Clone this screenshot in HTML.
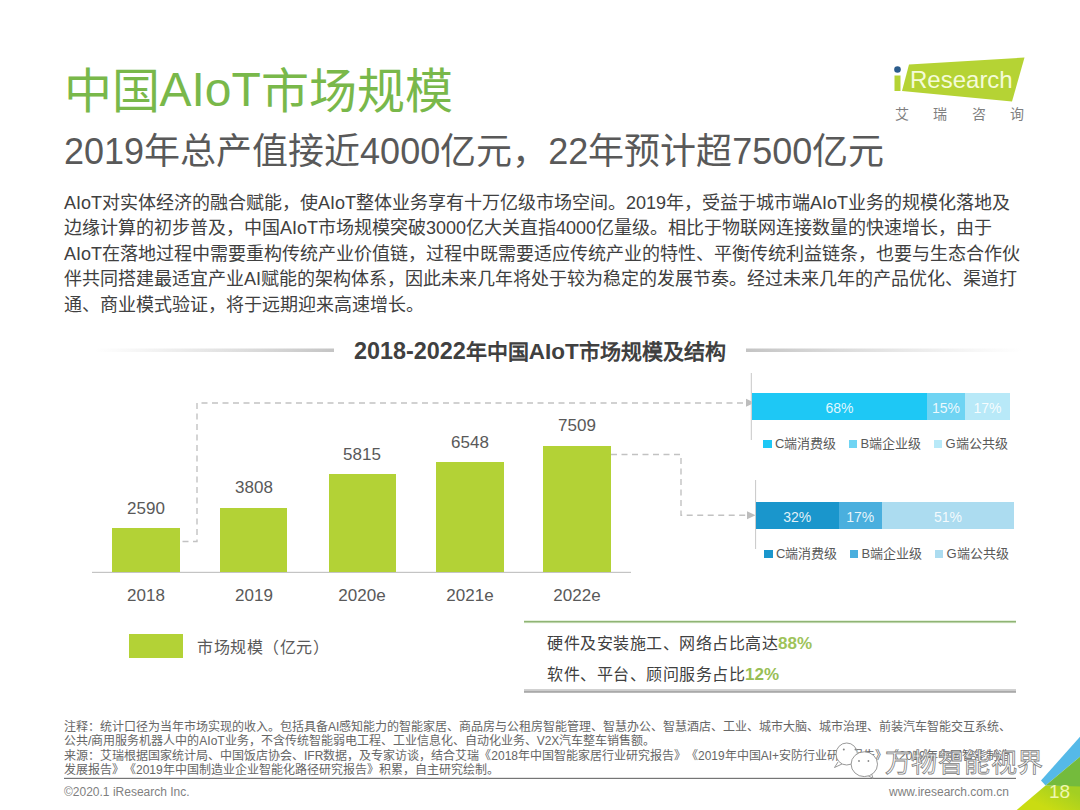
<!DOCTYPE html>
<html lang="zh-CN"><head><meta charset="utf-8">
<style>
html,body{margin:0;padding:0;background:#fff;}
body{width:1080px;height:810px;position:relative;overflow:hidden;font-family:"Liberation Sans",sans-serif;text-spacing-trim:space-all;}
.a{position:absolute;white-space:nowrap;line-height:1;}
#title{left:63.5px;top:67.5px;font-size:48px;color:#79b84a;}
#sub{left:64px;top:134px;font-size:36px;color:#595959;}
.p{left:64px;font-size:18px;color:#404040;}
#ctitle{left:354px;top:340px;font-size:21px;font-weight:bold;color:#404040;}
.bar{position:absolute;background:#b3d236;}
.val{position:absolute;font-size:17px;color:#595959;text-align:center;width:100px;line-height:1;}
.yr{position:absolute;font-size:17px;color:#595959;text-align:center;width:100px;line-height:1;}
.seg{position:absolute;height:27px;color:rgba(255,255,255,0.88);font-size:14px;text-align:center;line-height:30.5px;}
.leg{position:absolute;font-size:13px;color:#595959;line-height:1;white-space:nowrap;}
.sq{display:inline-block;width:8.5px;height:8.5px;margin-right:3.5px;vertical-align:-0.5px;}
.fn{left:64px;font-size:12px;color:#666;}
</style></head><body>

<!-- logo -->
<svg class="a" style="left:0;top:0" width="1080" height="810">
  <polygon points="909,64.5 1024.5,57.5 1012,101.5 902,91" fill="#b5d334"/>
  <circle cx="897.5" cy="69.5" r="3.3" fill="#2b5c8c"/>
  <rect x="894.5" y="75.5" width="6" height="15.5" fill="#b5d334"/>
  <!-- chart title lines -->
  <defs>
    <linearGradient id="gl" x1="0" x2="1"><stop offset="0" stop-color="#d0d0d0" stop-opacity="0"/><stop offset="1" stop-color="#c4c4c4"/></linearGradient>
    <linearGradient id="gr" x1="0" x2="1"><stop offset="0" stop-color="#c4c4c4"/><stop offset="1" stop-color="#d0d0d0" stop-opacity="0"/></linearGradient>
    <linearGradient id="corner" gradientUnits="userSpaceOnUse" x1="1050" y1="810" x2="1062" y2="786"><stop offset="0" stop-color="#cadc12"/><stop offset="1" stop-color="#a3cf22"/></linearGradient>
  </defs>
  <rect x="94" y="348.5" width="240" height="3.5" fill="url(#gl)"/>
  <rect x="746" y="348.5" width="276" height="3.5" fill="url(#gr)"/>
  <!-- axis -->
  <rect x="92" y="571.8" width="539" height="1.2" fill="#c4c4c4"/>
  <!-- dashed connectors -->
  <polyline points="172,541.5 197,541.5 197,403 745,403" fill="none" stroke="#c2c2c2" stroke-width="1.4" stroke-dasharray="6,4.5"/>
  <polygon points="746,398.8 754.5,402.8 746,406.8" fill="#bdbdbd"/>
  <polyline points="611,454.5 681,454.5 681,515.3 746,515.3" fill="none" stroke="#c2c2c2" stroke-width="1.4" stroke-dasharray="6,4.5"/>
  <polygon points="747,511.3 755.5,515.3 747,519.3" fill="#bdbdbd"/>
  <!-- vertical axis for stacked -->
  <rect x="750.8" y="373" width="1" height="67" fill="#c8c8c8"/>
  <rect x="755.1" y="480" width="1" height="69" fill="#c8c8c8"/>
  <!-- summary lines -->
  <rect x="524" y="620.3" width="492" height="3" fill="#e8f5e0"/><rect x="524" y="620.9" width="492" height="1.6" fill="#8fb474"/>
  <rect x="524" y="689.1" width="492" height="1.8" fill="#cccccc"/><rect x="524" y="690.9" width="492" height="1.9" fill="#a9a9a9"/>
  <!-- footnote line -->
  <rect x="64" y="777.8" width="952" height="1.2" fill="#757575"/>
  <!-- corner -->
  <polygon points="1041,780.6 1080,736.7 1080,756.7 1045.6,785.6" fill="#55b9e8"/>
  <polygon points="1016.7,810 1045.6,785.6 1080,786 1080,810" fill="url(#corner)"/>
  <polygon points="1045.6,785.6 1080,756.7 1080,786.5" fill="#74bb3c"/>
</svg>
<div class="a" style="left:910px;top:68px;font-size:24px;color:#f4fbd8;">Research</div>
<div class="a" style="left:894.7px;top:106.5px;font-size:14px;color:#7f7f7f;letter-spacing:24.5px;">艾瑞咨询</div>

<div class="a" id="title">中国<span style="position:relative;top:-2px">AIoT</span>市场规模</div>
<div class="a" id="sub">2019年总产值接近4000亿元，22年预计超7500亿元</div>

<div class="a p" style="top:193.5px">AIoT对实体经济的融合赋能，使AIoT整体业务享有十万亿级市场空间。2019年，受益于城市端AIoT业务的规模化落地及</div>
<div class="a p" style="top:219.1px">边缘计算的初步普及，中国AIoT市场规模突破3000亿大关直指4000亿量级。相比于物联网连接数量的快速增长，由于</div>
<div class="a p" style="top:244.7px">AIoT在落地过程中需要重构传统产业价值链，过程中既需要适应传统产业的特性、平衡传统利益链条，也要与生态合作伙</div>
<div class="a p" style="top:270.3px">伴共同搭建最适宜产业AI赋能的架构体系，因此未来几年将处于较为稳定的发展节奏。经过未来几年的产品优化、渠道打</div>
<div class="a p" style="top:295.9px">通、商业模式验证，将于远期迎来高速增长。</div>

<div class="a" id="ctitle"><span style="font-size:23.4px">2018-2022</span>年中国<span style="font-size:22.5px">AIoT</span>市场规模及结构</div>

<!-- bars -->
<div class="bar" style="left:112px;top:528px;width:68px;height:44px"></div>
<div class="bar" style="left:220px;top:507.5px;width:67px;height:64.5px"></div>
<div class="bar" style="left:328.5px;top:474px;width:67px;height:98px"></div>
<div class="bar" style="left:436px;top:462px;width:67.5px;height:110px"></div>
<div class="bar" style="left:543px;top:445.5px;width:68px;height:126.5px"></div>

<div class="val" style="left:96px;top:500px">2590</div>
<div class="val" style="left:204px;top:479px">3808</div>
<div class="val" style="left:312px;top:446px">5815</div>
<div class="val" style="left:420px;top:434px">6548</div>
<div class="val" style="left:527px;top:417px">7509</div>

<div class="yr" style="left:96px;top:587px">2018</div>
<div class="yr" style="left:204px;top:587px">2019</div>
<div class="yr" style="left:312px;top:587px">2020e</div>
<div class="yr" style="left:420px;top:587px">2021e</div>
<div class="yr" style="left:527px;top:587px">2022e</div>

<!-- stacked bar 1 -->
<div class="seg" style="left:752px;top:393px;width:175px;background:#1ec8f5">68%</div>
<div class="seg" style="left:927px;top:393px;width:38px;background:#6fd4f3">15%</div>
<div class="seg" style="left:965px;top:393px;width:45px;background:#b8e9f8">17%</div>
<div class="leg" style="left:763px;top:436.5px"><span class="sq" style="background:#1ec8f5"></span>C端消费级</div>
<div class="leg" style="left:848.5px;top:436.5px"><span class="sq" style="background:#6fd4f3"></span>B端企业级</div>
<div class="leg" style="left:933.5px;top:436.5px"><span class="sq" style="background:#b8e9f8"></span>G端公共级</div>

<!-- stacked bar 2 -->
<div class="seg" style="left:756px;top:502px;width:82.5px;background:#1a96cc">32%</div>
<div class="seg" style="left:838.5px;top:502px;width:43.5px;background:#4aafde">17%</div>
<div class="seg" style="left:882px;top:502px;width:132px;background:#acdcf0">51%</div>
<div class="leg" style="left:764px;top:546.5px"><span class="sq" style="background:#1a96cc"></span>C端消费级</div>
<div class="leg" style="left:849.5px;top:546.5px"><span class="sq" style="background:#4aafde"></span>B端企业级</div>
<div class="leg" style="left:934.5px;top:546.5px"><span class="sq" style="background:#acdcf0"></span>G端公共级</div>

<!-- legend -->
<div class="a" style="left:129px;top:634px;width:54px;height:24px;background:#b3d236"></div>
<div class="a" style="left:197px;top:640px;font-size:16px;letter-spacing:0.5px;color:#595959">市场规模（亿元）</div>

<!-- summary -->
<div class="a" style="left:547px;top:635px;font-size:16px;letter-spacing:0.5px;color:#404040">硬件及安装施工、网络占比高达<b style="color:#9ec35a;font-size:17px;letter-spacing:0">88%</b></div>
<div class="a" style="left:547px;top:665.5px;font-size:16px;letter-spacing:0.5px;color:#404040">软件、平台、顾问服务占比<b style="color:#98be55;font-size:17px;letter-spacing:0">12%</b></div>

<!-- footnotes -->
<div class="a fn" style="top:720.5px">注释：统计口径为当年市场实现的收入。包括具备AI感知能力的智能家居、商品房与公租房智能管理、智慧办公、智慧酒店、工业、城市大脑、城市治理、前装汽车智能交互系统、</div>
<div class="a fn" style="top:735px">公共/商用服务机器人中的AIoT业务，不含传统智能弱电工程、工业信息化、自动化业务、V2X汽车整车销售额。</div>
<div class="a fn" style="top:749.5px">来源：艾瑞根据国家统计局、中国饭店协会、IFR数据，及专家访谈，结合艾瑞《2018年中国智能家居行业研究报告》《2019年中国AI+安防行业研究报告》《2019年中国智能制造</div>
<div class="a fn" style="top:763.5px">发展报告》《2019年中国制造业企业智能化路径研究报告》积累，自主研究绘制。</div>
<div class="a fn" style="top:786px;color:#7f7f7f">©2020.1 iResearch Inc.</div>
<div class="a" style="left:889px;top:786px;font-size:12px;color:#7f7f7f">www.iresearch.com.cn</div>

<!-- watermark -->
<svg class="a" style="left:825px;top:735px" width="60" height="48" viewBox="825 735 60 48">
  <g fill="#fff" stroke="#8c8c8c" stroke-width="0.9">
    <path d="M838,762 L834.5,767.5 L842,764"/>
    <ellipse cx="846.7" cy="754" rx="10.7" ry="11"/>
    <path d="M868,775.5 L873,778.5 L871.5,773.5"/>
    <ellipse cx="864.3" cy="764.2" rx="13.2" ry="12.4"/>
  </g>
  <g fill="#888">
    <circle cx="843.8" cy="749.6" r="1"/><circle cx="855.5" cy="749.6" r="1"/>
    <circle cx="859" cy="761" r="0.9"/><circle cx="868.4" cy="761" r="0.9"/>
  </g>
</svg>
<div id="wm" class="a" style="left:884.5px;top:750px;font-size:26px;letter-spacing:0.5px;font-weight:300;color:#fff;-webkit-text-stroke:0.8px #808080;">万物智能视界</div>

<div class="a" style="left:1049px;top:782px;font-size:19px;color:#eef7b0">18</div>
</body></html>
